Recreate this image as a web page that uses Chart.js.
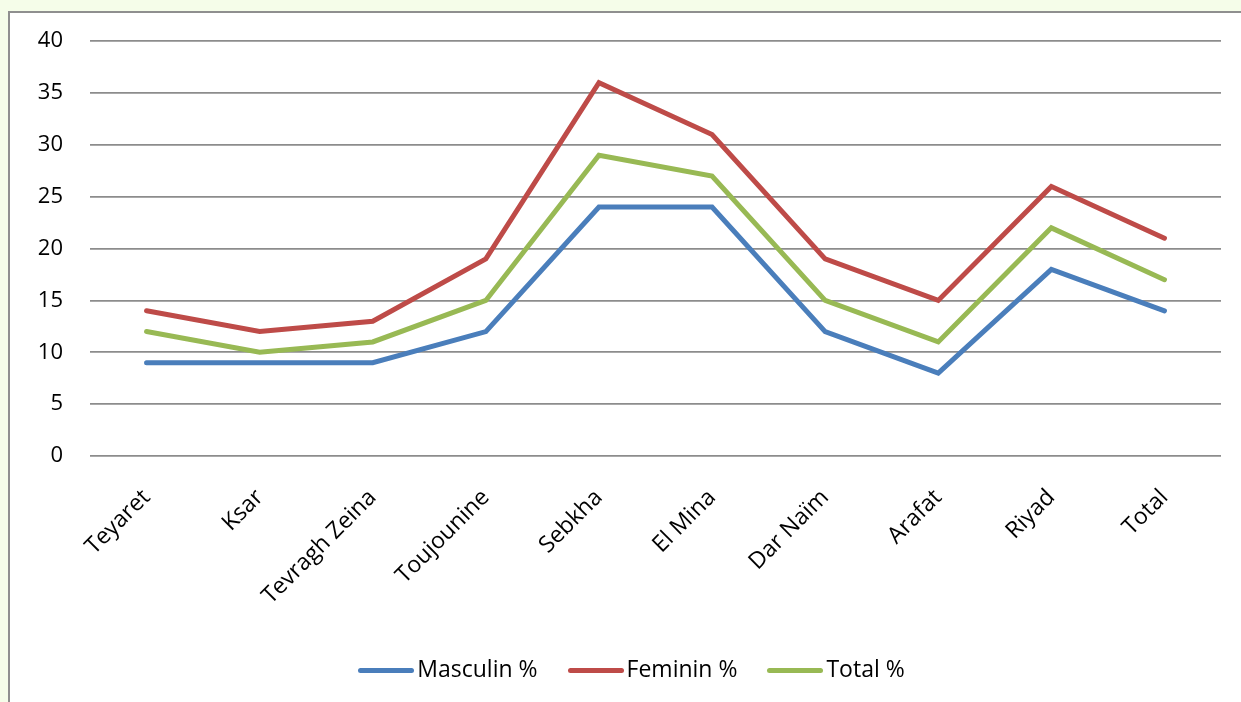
<!DOCTYPE html>
<html>
<head>
<meta charset="utf-8">
<script src="https://cdn.jsdelivr.net/npm/chart.js@4.4.1/dist/chart.umd.min.js"></script>
<style>
    html, body { margin: 0; padding: 0; background: #f5fde9; overflow: hidden; }
    #cadre {
        position: absolute; left: 8px; top: 11px; width: 1240px; height: 700px;
        background: #ffffff; border-left: 2px solid #8f8f8f; border-top: 2px solid #8f8f8f;
    }
    #zone { position: absolute; left: 0; top: -12px; width: 1231px; height: 701px; }
    #legende {
        position: absolute; left: 6px; top: 639px; width: 1231px; text-align: center;
        font-family: 'Open Sans', 'Noto Sans', sans-serif; font-size: 23px; color: #000;
    }
    .item { display: inline-block; margin: 0 15px; white-space: nowrap; }
    .trait { display: inline-block; width: 56px; height: 5px; border-radius: 3px; vertical-align: middle; margin-right: 3px; }
</style>
</head>
<body>
<div id="cadre">
    <div id="zone"><canvas id="chartQuartiers"></canvas></div>
    <div id="legende"></div>
</div>
<script>
// Données
const quartiers = ['Teyaret', 'Ksar', 'Tevragh Zeina', 'Toujounine', 'Sebkha', 'El Mina', 'Dar Naïm', 'Arafat', 'Riyad', 'Total'];
const masculin = [9, 9, 9, 12, 24, 24, 12, 8, 18, 14];
const feminin  = [14, 12, 13, 19, 36, 31, 19, 15, 26, 21];
const total    = [12, 10, 11, 15, 29, 27, 15, 11, 22, 17];
const ticksY   = [0, 5, 10, 15, 20, 25, 30, 35, 40];

const police = "'Open Sans', 'Noto Sans', sans-serif";

function serie(label, data, couleur) {
    return {
        label: label,
        data: data,
        borderColor: couleur,
        backgroundColor: couleur,
        borderWidth: 5,
        borderCapStyle: 'round',
        pointRadius: 0,
        tension: 0,
        fill: false
    };
}

const graphique = new Chart(document.getElementById('chartQuartiers'), {
    type: 'line',
    data: {
        labels: quartiers,
        datasets: [
            serie('Masculin %', masculin, '#4a7ebb'),
            serie('Feminin %', feminin, '#be4b48'),
            serie('Total %', total, '#98b954')
        ]
    },
    options: {
        responsive: true,
        maintainAspectRatio: false,
        animation: false,
        layout: { padding: { top: 16, right: 20, bottom: 0, left: 0 } },
        plugins: {
            tooltip: { enabled: false },
            legend: { display: false }
        },
        scales: {
            x: {
                offset: true,
                grid: { display: false, drawTicks: false },
                border: { display: false },
                ticks: {
                    font: { family: police, size: 23 },
                    color: '#000',
                    maxRotation: 45,
                    minRotation: 45,
                    padding: 28
                },
                afterFit: function(scale) { scale.height = 246; }
            },
            y: {
                min: 0,
                max: 40,
                afterBuildTicks: function(scale) { scale.ticks = ticksY.map(v => ({ value: v })); },
                grid: { color: '#8c8c8c', lineWidth: 1.8, drawTicks: false },
                border: { display: false },
                ticks: {
                    font: { family: police, size: 22 },
                    color: '#000',
                    padding: 27
                },
                afterFit: function(scale) { scale.width = 80; }
            }
        }
    }
});

// Légende HTML construite à partir des séries
const legende = document.getElementById('legende');
graphique.data.datasets.forEach(ds => {
    const item = document.createElement('span');
    item.className = 'item';
    const trait = document.createElement('span');
    trait.className = 'trait';
    trait.style.background = ds.borderColor;
    item.appendChild(trait);
    item.appendChild(document.createTextNode(ds.label));
    legende.appendChild(item);
});
</script>
</body>
</html>
